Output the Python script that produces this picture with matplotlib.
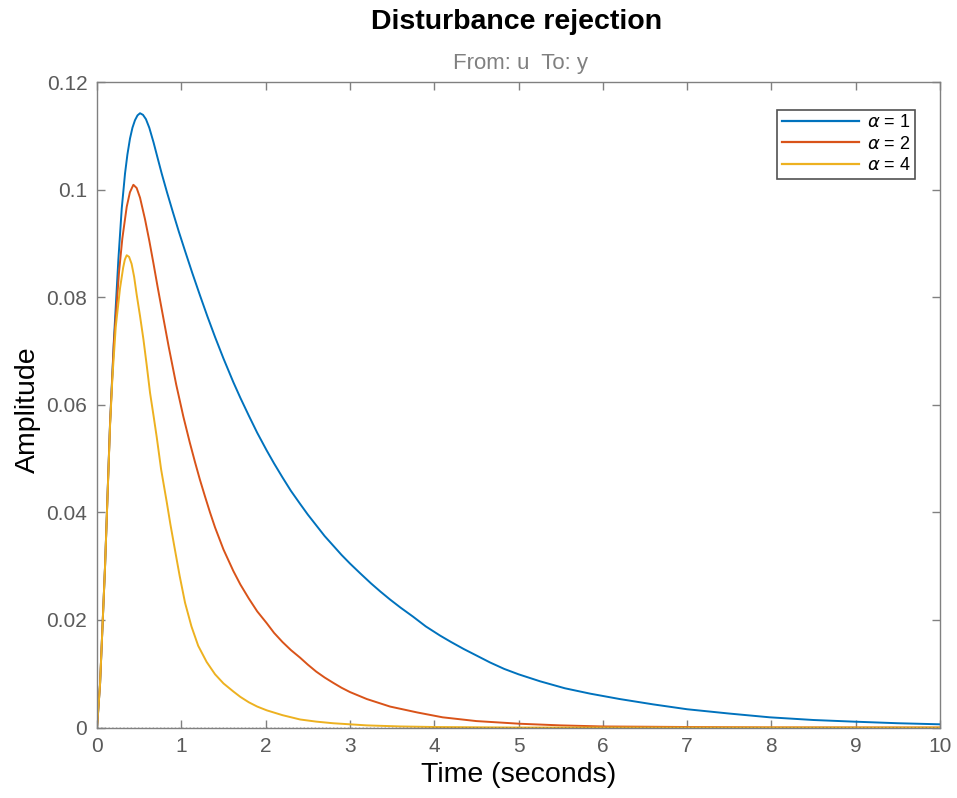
import matplotlib
matplotlib.use('Agg')
import matplotlib.pyplot as plt

plt.rcParams['font.family'] = ['Liberation Sans', 'DejaVu Sans']

# 读图得到的数据点
t_a1 = [0, 0.036, 0.095, 0.154, 0.20, 0.253, 0.293, 0.332, 0.36, 0.391, 0.42, 0.45, 0.48,
        0.51, 0.545, 0.58, 0.62, 0.67, 0.72, 0.767, 0.83, 0.90, 0.97, 1.044, 1.13, 1.222,
        1.31, 1.40, 1.50, 1.617, 1.70, 1.80, 1.90, 2.013, 2.10, 2.20, 2.30, 2.408, 2.50,
        2.60, 2.70, 2.803, 2.90, 3.0, 3.12, 3.25, 3.36, 3.476, 3.6, 3.75, 3.9, 4.069, 4.2,
        4.35, 4.5, 4.662, 4.83, 5.0, 5.255, 5.55, 5.85, 6.2, 6.6, 7.0, 7.5, 7.98, 8.5,
        8.97, 9.5, 10.0]
y_a1 = [0, 0.0082, 0.0300, 0.0565, 0.0720, 0.0870, 0.0965, 0.1030, 0.1065, 0.1095, 0.1115,
        0.1129, 0.1138, 0.1142, 0.1139, 0.1131, 0.1115, 0.1088, 0.1058, 0.1030, 0.0995,
        0.0958, 0.0922, 0.0886, 0.0845, 0.0803, 0.0764, 0.0726, 0.0686, 0.0642, 0.0613,
        0.0580, 0.0548, 0.0515, 0.0491, 0.0465, 0.0440, 0.0416, 0.0396, 0.0376, 0.0356,
        0.0338, 0.0321, 0.0305, 0.0287, 0.0268, 0.0253, 0.0238, 0.0223, 0.0206, 0.0188,
        0.0171, 0.0159, 0.0146, 0.0134, 0.0121, 0.0109, 0.0099, 0.0086, 0.0073, 0.0063,
        0.0053, 0.0043, 0.0034, 0.0026, 0.0019, 0.0014, 0.0011, 0.0008, 0.0006]

t_a2 = [0, 0.036, 0.095, 0.154, 0.20, 0.261, 0.30, 0.352, 0.39, 0.431, 0.47, 0.51, 0.569,
        0.62, 0.668, 0.72, 0.767, 0.85, 0.94, 1.024, 1.10, 1.163, 1.22, 1.28, 1.34, 1.40,
        1.50, 1.617, 1.70, 1.80, 1.90, 2.013, 2.10, 2.20, 2.30, 2.408, 2.50, 2.60, 2.70,
        2.803, 2.90, 3.0, 3.2, 3.476, 3.8, 4.1, 4.5, 5.02, 5.5, 6.0, 7.0, 8.0, 10.0]
y_a2 = [0, 0.0082, 0.0300, 0.0563, 0.0715, 0.0847, 0.0909, 0.0968, 0.0995, 0.1009, 0.1003,
        0.0985, 0.0945, 0.0905, 0.0864, 0.0818, 0.0778, 0.0708, 0.0637, 0.0578, 0.0530,
        0.0493, 0.0461, 0.0430, 0.0400, 0.0372, 0.0331, 0.0291, 0.0266, 0.0240, 0.0216,
        0.0194, 0.0176, 0.0159, 0.0144, 0.0130, 0.0117, 0.0104, 0.0093, 0.0083, 0.0074,
        0.0066, 0.0053, 0.0039, 0.0028, 0.0019, 0.0012, 0.0007, 0.0004, 0.0002, 0.0001,
        0.00003, 0]

t_a4 = [0, 0.036, 0.095, 0.154, 0.182, 0.222, 0.273, 0.31, 0.33, 0.352, 0.38, 0.41, 0.44,
        0.47, 0.51, 0.55, 0.589, 0.629, 0.67, 0.708, 0.76, 0.826, 0.87, 0.919, 0.98, 1.044,
        1.12, 1.20, 1.30, 1.40, 1.50, 1.617, 1.70, 1.80, 1.90, 2.013, 2.20, 2.408, 2.6,
        2.8, 3.0, 3.2, 3.6, 4.0, 5.0, 10.0]
y_a4 = [0, 0.0082, 0.0299, 0.0560, 0.0650, 0.0745, 0.0817, 0.0855, 0.0870, 0.0878, 0.0875,
        0.0862, 0.0838, 0.0805, 0.0765, 0.0722, 0.0674, 0.0622, 0.0580, 0.0540, 0.0480,
        0.0420, 0.0378, 0.0335, 0.0282, 0.0232, 0.0188, 0.0152, 0.0122, 0.0099, 0.0082,
        0.0067, 0.0057, 0.0047, 0.0039, 0.0032, 0.0023, 0.0015, 0.0011, 0.0008, 0.0006,
        0.0004, 0.0002, 0.0001, 0, 0]

labels = [r'$\alpha$ = 1', r'$\alpha$ = 2', r'$\alpha$ = 4']
colors = ['#0072BD', '#D95319', '#EDB120']

xticks = list(range(0, 11))
yticks = [0, 0.02, 0.04, 0.06, 0.08, 0.1, 0.12]
yticklabels = ['0', '0.02', '0.04', '0.06', '0.08', '0.1', '0.12']

fig = plt.figure(figsize=(9.57, 7.98), dpi=100)
ax = fig.add_axes([0.1014, 0.0883, 0.8808, 0.8089])

ax.plot(t_a1, y_a1, color=colors[0], lw=1.4, label=labels[0])
ax.plot(t_a2, y_a2, color=colors[1], lw=1.4, label=labels[1])
ax.plot(t_a4, y_a4, color=colors[2], lw=1.4, label=labels[2])
# 零线（虚线）
ax.plot([0, 10], [0, 0], ':', color='black', lw=1.0)

ax.set_xlim(0, 10)
ax.set_ylim(0, 0.12)
ax.set_xticks(xticks)
ax.set_yticks(yticks)
ax.set_yticklabels(yticklabels)

axis_gray = '#808080'
for s in ax.spines.values():
    s.set_color(axis_gray)
    s.set_linewidth(1.0)
ax.tick_params(direction='in', length=6, width=1.0, color=axis_gray,
               labelcolor='#5a5a5a', labelsize=15, top=True, right=True, pad=7)

leg = ax.legend(loc='upper right', bbox_to_anchor=(0.9705, 0.957), fontsize=13,
                frameon=True, fancybox=False, handlelength=4.3, handletextpad=0.4,
                borderpad=0.25, labelspacing=0.25, borderaxespad=0)
leg.get_frame().set_edgecolor('#262626')
leg.get_frame().set_linewidth(1.2)
for line in leg.get_lines():
    line.set_linewidth(1.6)

fig.text(0.5395, 0.9724, 'Disturbance rejection', ha='center', va='center',
         fontsize=20.5, fontweight='bold', color='black')
fig.text(0.5435, 0.921, 'From: u  To: y', ha='center', va='center',
         fontsize=16, color='#808080')
fig.text(0.5418, 0.0288, 'Time (seconds)', ha='center', va='center', fontsize=20.5)
fig.text(0.029, 0.486, 'Amplitude', ha='center', va='center', fontsize=20.5, rotation=90)

fig.savefig('out.png', dpi=100)
